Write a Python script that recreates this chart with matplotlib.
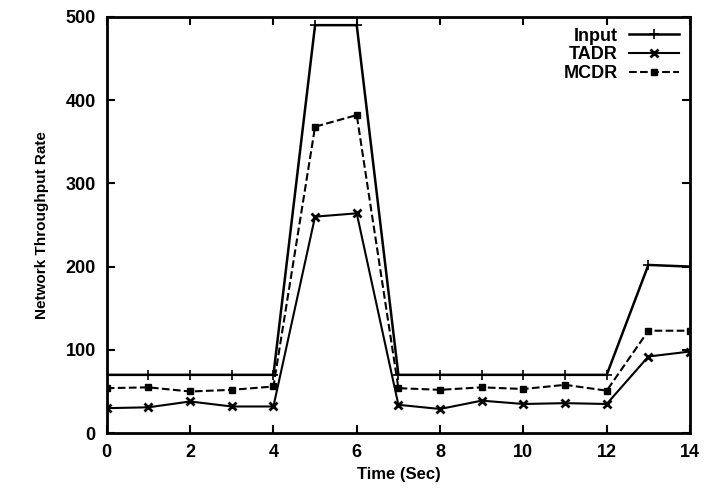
import matplotlib
matplotlib.use("Agg")
import matplotlib.pyplot as plt

# data
time = list(range(15))
input_rate = [70, 70, 70, 70, 70, 490, 490, 70, 70, 70, 70, 70, 70, 202, 200]
tadr = [30, 31, 38, 32, 32, 260, 264, 34, 29, 39, 35, 36, 35, 92, 98]
mcdr = [54, 55, 50, 52, 56, 368, 382, 54, 52, 55, 53, 58, 51, 123, 123]

plt.rcParams['font.family'] = ['Liberation Sans', 'DejaVu Sans']
plt.rcParams['font.weight'] = 'bold'

fig = plt.figure(figsize=(7.07, 4.95), dpi=100)
ax = fig.add_axes([0.151, 0.125, 0.825, 0.841])

ax.plot(time, input_rate, color='black', lw=1.8, marker='+', ms=7, mew=1.2, label='Input')
ax.plot(time, tadr, color='black', lw=1.5, marker='x', ms=6, mew=2, label='TADR')
ax.plot(time, mcdr, color='black', lw=1.5, ls='--', marker='s', ms=5, label='MCDR')

ax.set_xlim(0, 14)
ax.set_ylim(0, 500)
ax.set_xticks(range(0, 15, 2))
ax.set_yticks(range(0, 501, 100))
ax.tick_params(direction='in', top=True, right=True, length=6, width=1.5, labelsize=13, pad=8)
for s in ax.spines.values():
    s.set_linewidth(2)

ax.set_xlabel('Time (Sec)', fontsize=12, fontweight='bold')
ax.set_ylabel('Network Throughput Rate', fontsize=11, fontweight='bold', labelpad=12)

leg = ax.legend(loc='upper right', frameon=False, markerfirst=False, fontsize=13,
                handlelength=2.8, borderaxespad=0.2, labelspacing=0.1, handletextpad=0.6)

fig.savefig('out.png', dpi=100)
